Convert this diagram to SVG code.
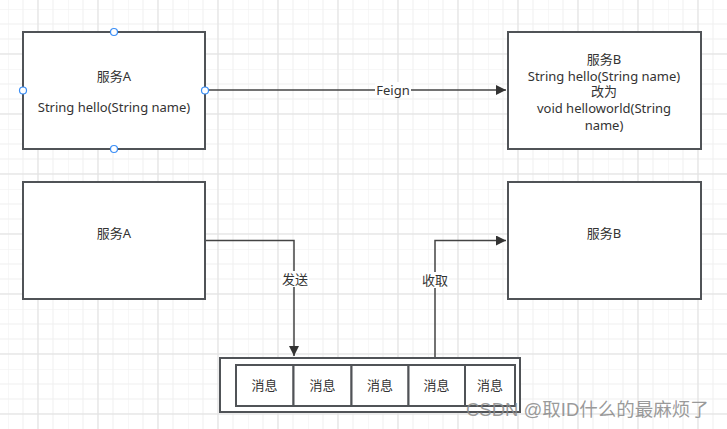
<svg xmlns="http://www.w3.org/2000/svg" width="727" height="429" viewBox="0 0 727 429">
<defs>
<pattern id="grid" x="8" y="9" width="60" height="60" patternUnits="userSpaceOnUse">
<path d="M0 0V60M15 0V60M30 0V60M45 0V60M0 0H60M0 15H60M0 30H60M0 45H60" stroke="#efefef" stroke-width="1" fill="none"/>
<path d="M30 0V60M0 45H60" stroke="#e2e2e2" stroke-width="1" fill="none"/>
</pattern>
<marker id="arr" viewBox="0 0 10 10" refX="10" refY="5" markerWidth="10" markerHeight="10" markerUnits="userSpaceOnUse" orient="auto">
<path d="M0 0L10 5L0 10Z" fill="#333"/>
</marker>
<style>
.box{fill:#fff;stroke:#505357;stroke-width:2}
.cell{fill:#fff;stroke:#505357;stroke-width:2}
.t{font-family:"Noto Sans","Noto Sans CJK SC",sans-serif;font-size:13px;fill:#333;text-anchor:middle;dominant-baseline:central}
.ln{fill:none;stroke:#444;stroke-width:1.5}
.lbl{fill:#fff}
.hdl{fill:#fff;stroke:#3a8ef6;stroke-width:1.2}
</style>
</defs>
<rect width="727" height="429" fill="#fff"/>
<rect width="727" height="429" fill="url(#grid)"/>
<g id="connectors">
<path class="ln" d="M205 90H506" marker-end="url(#arr)"/>
<rect class="lbl" x="375" y="82" width="36" height="16"/>
<text class="t" x="393" y="90">Feign</text>
<path class="ln" d="M205 240.5H294V356" marker-end="url(#arr)"/>
<rect class="lbl" x="281" y="271" width="28" height="16"/>
<text class="t" x="295" y="279">发送</text>
<path class="ln" d="M435 357V240.5H506" marker-end="url(#arr)"/>
<rect class="lbl" x="421" y="272" width="28" height="16"/>
<text class="t" x="435" y="280">收取</text>
</g>
<g id="serviceA1">
<rect class="box" x="23" y="32" width="182" height="117"/>
<text class="t" x="114" y="76">服务A</text>
<text class="t" x="114" y="107">String hello(String name)</text>
<circle class="hdl" cx="114" cy="32" r="3.5"/>
<circle class="hdl" cx="114" cy="149" r="3.5"/>
<circle class="hdl" cx="23" cy="90.5" r="3.5"/>
<circle class="hdl" cx="205" cy="90.5" r="3.5"/>
</g>
<g id="serviceB1">
<rect class="box" x="508" y="32" width="193" height="117"/>
<text class="t" x="604" y="59">服务B</text>
<text class="t" x="604" y="75.5">String hello(String name)</text>
<text class="t" x="604" y="91">改为</text>
<text class="t" x="604" y="108">void helloworld(String</text>
<text class="t" x="604" y="124.5">name)</text>
</g>
<g id="serviceA2">
<rect class="box" x="23" y="182" width="182" height="117"/>
<text class="t" x="114" y="233">服务A</text>
</g>
<g id="serviceB2">
<rect class="box" x="508" y="182" width="193" height="117"/>
<text class="t" x="604" y="233">服务B</text>
</g>
<g id="queue">
<rect class="box" x="220" y="358" width="300" height="54"/>
<rect class="cell" x="236" y="365" width="57.5" height="41"/>
<rect class="cell" x="293.5" y="365" width="58" height="41"/>
<rect class="cell" x="351.5" y="365" width="57" height="41"/>
<rect class="cell" x="408.5" y="365" width="56.5" height="41"/>
<rect class="cell" x="465" y="365" width="50" height="41"/>
<text class="t" x="264.5" y="385">消息</text>
<text class="t" x="322.5" y="385">消息</text>
<text class="t" x="380" y="385">消息</text>
<text class="t" x="436.5" y="385">消息</text>
<text class="t" x="490" y="385">消息</text>
</g>
<text x="466" y="409" font-family="'Liberation Sans','Noto Sans CJK SC',sans-serif" font-size="18.5" fill="#888" fill-opacity="0.85" dominant-baseline="central">CSDN @取ID什么的最麻烦了</text>
</svg>
